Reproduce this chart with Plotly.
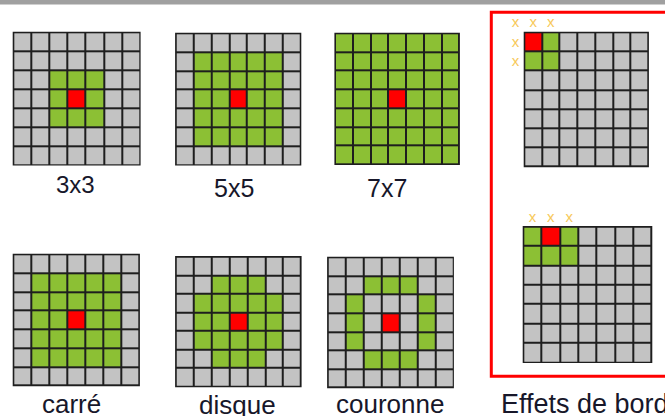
import plotly.graph_objects as go

# ---------------- data ----------------
# cell states: 0 = pixel (gray), 1 = neighbour (green), 2 = centre pixel (red)
pattern_3x3 = [
    [0, 0, 0, 0, 0, 0, 0],
    [0, 0, 0, 0, 0, 0, 0],
    [0, 0, 1, 1, 1, 0, 0],
    [0, 0, 1, 2, 1, 0, 0],
    [0, 0, 1, 1, 1, 0, 0],
    [0, 0, 0, 0, 0, 0, 0],
    [0, 0, 0, 0, 0, 0, 0],
]
pattern_5x5 = [
    [0, 0, 0, 0, 0, 0, 0],
    [0, 1, 1, 1, 1, 1, 0],
    [0, 1, 1, 1, 1, 1, 0],
    [0, 1, 1, 2, 1, 1, 0],
    [0, 1, 1, 1, 1, 1, 0],
    [0, 1, 1, 1, 1, 1, 0],
    [0, 0, 0, 0, 0, 0, 0],
]
pattern_7x7 = [
    [1, 1, 1, 1, 1, 1, 1],
    [1, 1, 1, 1, 1, 1, 1],
    [1, 1, 1, 1, 1, 1, 1],
    [1, 1, 1, 2, 1, 1, 1],
    [1, 1, 1, 1, 1, 1, 1],
    [1, 1, 1, 1, 1, 1, 1],
    [1, 1, 1, 1, 1, 1, 1],
]
pattern_corner = [
    [2, 1, 0, 0, 0, 0, 0],
    [1, 1, 0, 0, 0, 0, 0],
    [0, 0, 0, 0, 0, 0, 0],
    [0, 0, 0, 0, 0, 0, 0],
    [0, 0, 0, 0, 0, 0, 0],
    [0, 0, 0, 0, 0, 0, 0],
    [0, 0, 0, 0, 0, 0, 0],
]
pattern_edge = [
    [1, 2, 1, 0, 0, 0, 0],
    [1, 1, 1, 0, 0, 0, 0],
    [0, 0, 0, 0, 0, 0, 0],
    [0, 0, 0, 0, 0, 0, 0],
    [0, 0, 0, 0, 0, 0, 0],
    [0, 0, 0, 0, 0, 0, 0],
    [0, 0, 0, 0, 0, 0, 0],
]
pattern_carre = [
    [0, 0, 0, 0, 0, 0, 0],
    [0, 1, 1, 1, 1, 1, 0],
    [0, 1, 1, 1, 1, 1, 0],
    [0, 1, 1, 2, 1, 1, 0],
    [0, 1, 1, 1, 1, 1, 0],
    [0, 1, 1, 1, 1, 1, 0],
    [0, 0, 0, 0, 0, 0, 0],
]
pattern_disque = [
    [0, 0, 0, 0, 0, 0, 0],
    [0, 0, 1, 1, 1, 0, 0],
    [0, 1, 1, 1, 1, 1, 0],
    [0, 1, 1, 2, 1, 1, 0],
    [0, 1, 1, 1, 1, 1, 0],
    [0, 0, 1, 1, 1, 0, 0],
    [0, 0, 0, 0, 0, 0, 0],
]
pattern_couronne = [
    [0, 0, 0, 0, 0, 0, 0],
    [0, 0, 1, 1, 1, 0, 0],
    [0, 1, 0, 0, 0, 1, 0],
    [0, 1, 0, 2, 0, 1, 0],
    [0, 1, 0, 0, 0, 1, 0],
    [0, 0, 1, 1, 1, 0, 0],
    [0, 0, 0, 0, 0, 0, 0],
]
labels = ["3x3", "5x5", "7x7", "carré", "disque", "couronne", "Effets de bord"]
# missing neighbours outside the image (row, col relative to the grid)
missing_corner = [(-1, -1), (-1, 0), (-1, 1), (0, -1), (1, -1)]
missing_edge = [(-1, 0), (-1, 1), (-1, 2)]
missing_symbol = "x"

# ---------------- layout (pixel boxes: left, top, right, bottom) ----------------
W, H = 665, 416
grids = [
    (pattern_3x3, (13.3, 32.3, 140.0, 165.0)),
    (pattern_5x5, (175.7, 33.3, 300.7, 165.0)),
    (pattern_7x7, (335.0, 33.3, 459.3, 164.3)),
    (pattern_corner, (524.3, 32.3, 648.3, 166.7)),
    (pattern_edge, (523.3, 226.7, 651.7, 362.3)),
    (pattern_carre, (13.3, 254.3, 139.3, 385.7)),
    (pattern_disque, (175.7, 256.7, 301.0, 386.7)),
    (pattern_couronne, (327.7, 257.3, 453.3, 387.7)),
]
label_pos = [
    (75.5, 184, "center", 24),
    (234, 188, "center", 25),
    (387, 188, "center", 25),
    (71, 404, "center", 26),
    (237, 405, "center", 26),
    (390, 404, "center", 26),
    (499, 404, "left", 27),
]
GRAY, GREEN, RED = "#c3c3c3", "#8cc034", "#ff0000"
LINE = "#1e1e1e"
TEXT = "#17172a"
FONT = "Liberation Sans, Arial, sans-serif"

colorscale = [
    [0.0, GRAY], [0.3333, GRAY],
    [0.3333, GREEN], [0.6667, GREEN],
    [0.6667, RED], [1.0, RED],
]

fig = go.Figure()
shapes = []

for pat, (l, t, r, b) in grids:
    n_rows, n_cols = len(pat), len(pat[0])
    cw = (r - l) / n_cols
    ch = (b - t) / n_rows
    shapes.append(dict(type="rect", xref="x", yref="y", x0=l - 0.6, x1=r + 0.6,
                       y0=t - 0.6, y1=b + 0.6, fillcolor=LINE,
                       line=dict(width=0), layer="below"))
    fig.add_trace(go.Heatmap(
        z=pat, x0=l + cw / 2, dx=cw, y0=t + ch / 2, dy=ch,
        zmin=0, zmax=2, colorscale=colorscale, showscale=False,
        xgap=2, ygap=2, hoverinfo="skip",
    ))

def add_marks(marks, box):
    l, t, r, b = box
    cw = (r - l) / 7
    ch = (b - t) / 7
    xs = [l + (c + 0.5) * cw for (rr, c) in marks]
    ys = [t + (rr + 0.5) * ch + 1.0 for (rr, c) in marks]
    fig.add_trace(go.Scatter(
        x=xs, y=ys, mode="text", text=[missing_symbol] * len(marks),
        textposition="middle center",
        textfont=dict(family=FONT, size=15, color="#f7c95a"),
        hoverinfo="skip", showlegend=False,
    ))

add_marks(missing_corner, grids[3][1])
add_marks(missing_edge, grids[4][1])

# top gray band and red frame
shapes.append(dict(type="rect", xref="x", yref="y", x0=0, x1=W, y0=0, y1=4.5,
                   fillcolor="#a0a0a0", line=dict(width=0), layer="above"))
shapes.append(dict(type="rect", xref="x", yref="y", x0=491.3, x1=W + 20,
                   y0=12.2, y1=376.3, fillcolor="rgba(0,0,0,0)",
                   line=dict(color="#ff0000", width=3), layer="above"))

annotations = []
for txt, (x, y, anchor, fs) in zip(labels, label_pos):
    annotations.append(dict(
        x=x, y=y, xref="x", yref="y", text=txt, showarrow=False,
        xanchor=anchor, yanchor="middle",
        font=dict(family=FONT, size=fs, color=TEXT),
    ))

fig.update_layout(
    width=W, height=H, autosize=False,
    margin=dict(l=0, r=0, t=0, b=0, pad=0),
    paper_bgcolor="white", plot_bgcolor="white",
    showlegend=False,
    xaxis=dict(range=[0, W], visible=False, fixedrange=True),
    yaxis=dict(range=[H, 0], visible=False, fixedrange=True),
    shapes=shapes, annotations=annotations,
)

fig.write_html(
    "out.html",
    config={"displayModeBar": False},
    post_script="document.body.style.margin='0px';document.body.style.overflow='hidden';",
)
